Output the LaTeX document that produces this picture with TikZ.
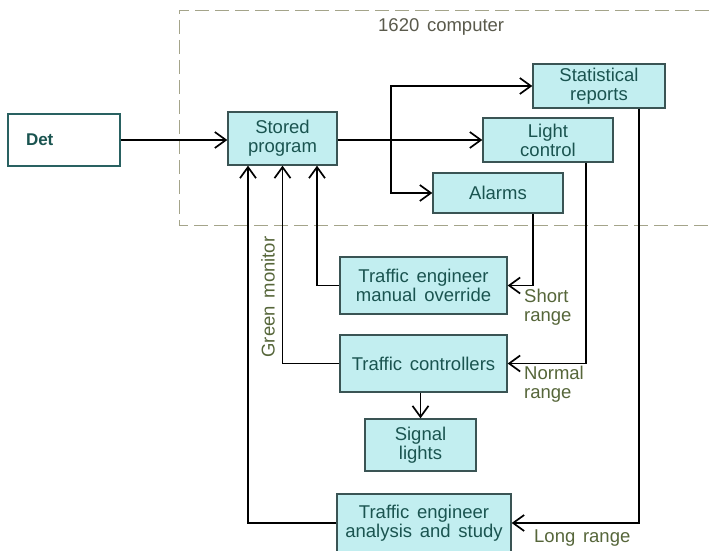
\documentclass[tikz,border=0pt]{standalone}
\usepackage{fontspec}
\setmainfont{Liberation Sans}[WordSpace=1.5]
\usetikzlibrary{arrows.meta}
\definecolor{boxfill}{HTML}{C2EEF0}
\definecolor{boxline}{HTML}{3A5454}
\definecolor{boxtext}{HTML}{1A5450}
\definecolor{lbltext}{HTML}{56663A}
\definecolor{frame}{HTML}{A4A48A}
\tikzset{
  every node/.style={font=\fontsize{18.5}{19}\selectfont},
  unit/.style={draw=boxline, fill=boxfill, text=boxtext, line width=1.4pt,
    align=center, inner sep=0pt},
  lbl/.style={text=lbltext, align=left, inner sep=0pt},
  arr/.style={line width=1.8pt, -{Straight Barb[length=11pt,width=16pt,line width=1.7pt]}},
}
\begin{document}
\begin{tikzpicture}[x=1pt, y=-1pt]
\useasboundingbox (0,0) rectangle (709,551);
\clip (0,0) rectangle (709,551);
\fill[white] (0,0) rectangle (709,551);

% computer boundary
\draw[frame, line width=0.9pt, dash pattern=on 14pt off 6pt] (709,10) -- (179,10) -- (179,225) -- (709,225);
\node[lbl, text=frame!55!black, anchor=base west] (cpu) at (378,32) {1620 computer};

% units
\node[draw=boxline!70!teal, fill=white, line width=1.2pt, text=boxtext,
  minimum width=112pt, minimum height=52pt, inner xsep=18pt, inner ysep=0pt,
  text width=76pt, align=left, font=\fontsize{17}{19}\selectfont\bfseries] (det) at (64,140) {Det};
\node[unit, minimum width=109pt, minimum height=53pt] (stored) at (282.5,138.5) {Stored\\program};
\node[unit, minimum width=132pt, minimum height=44pt] (stat) at (599,86) {Statistical\\reports};
\node[unit, minimum width=130pt, minimum height=44pt] (light) at (548,140) {Light\\control};
\node[unit, minimum width=130pt, minimum height=40pt] (alarms) at (498,193) {Alarms};
\node[unit, minimum width=167pt, minimum height=57pt] (manual) at (423.5,285.5) {Traffic engineer\\manual override};
\node[unit, minimum width=167pt, minimum height=57pt] (ctrl) at (423.5,363.5) {Traffic controllers};
\node[unit, minimum width=111pt, minimum height=52pt] (signal) at (420.5,445) {Signal\\lights};
\node[unit, minimum width=174pt, minimum height=58pt] (study) at (424,523) {Traffic engineer\\analysis and study};

% flow out of the stored program
\draw[arr] (det.east) -- (det.east -| stored.west);
\draw[arr] (stored.east |- light.west) -- (light.west);
\coordinate (fork) at (391,140);
\draw[arr] (fork) |- (stat.west);
\draw[arr] (fork) |- (alarms.west);

% feedback loops
\draw[arr] ([xshift=35pt]alarms.south) |- (manual.east);
\draw[arr] ([xshift=38pt]light.south) |- (ctrl.east);
\draw[arr] ([xshift=40pt]stat.south) |- (study.east);

\draw[arr] (manual.west) -| ([xshift=34.5pt]stored.south);
\draw[arr] (ctrl.west) -| (stored.south);
\draw[arr] (study.west) -| ([xshift=-34.5pt]stored.south);
\draw[arr] (ctrl.south -| signal.north) -- (signal.north);

% labels
\node[lbl, rotate=90] (green) at (268,297) {Green monitor};
\node[lbl, anchor=north west] (short) at (524,289) {Short\\range};
\node[lbl, anchor=north west] (normal) at (524,366) {Normal\\range};
\node[lbl, anchor=base west] (long) at (534,542) {Long range};
\end{tikzpicture}
\end{document}
